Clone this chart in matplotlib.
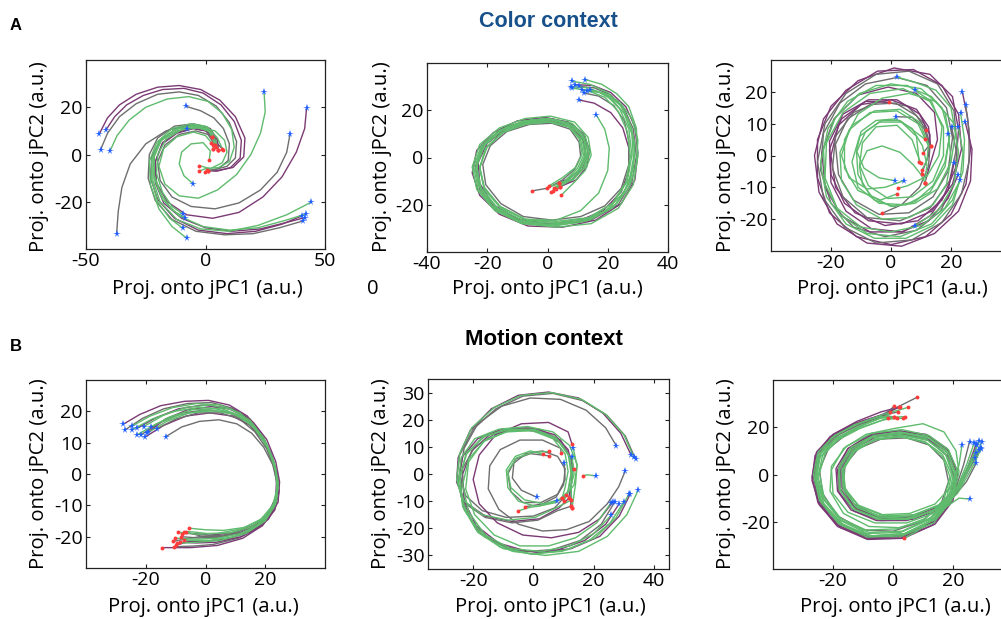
import matplotlib
matplotlib.use("Agg")
import matplotlib.pyplot as plt

plt.rcParams['font.family'] = ['Open Sans', 'DejaVu Sans']
plt.rcParams['axes.unicode_minus'] = False

W, H = 1001, 619
G, P, K = '#5fbb6d', '#7b3a74', '#6e6e6e'
STAR, DOT = '#1f5fff', '#ff3b3b'

# ---------------- data: panel A1 (Color context, left) ----------------
A1_TRAJ = [
    [(-44.4,8.8),(-41,15.5),(-36,21),(-29,25.5),(-20,28.5),(-11,29.2),(-2,27.5),(6,23),(12.5,16),(16.5,7),(16,-1),(11.5,-5.5),(4,-7),(0.5,-6.5)],
    [(-41.6,10.5),(-38,16),(-33,21),(-26,25),(-18,27.5),(-9,28),(-1,26),(6.5,21),(12,14),(15,6),(14.5,-1.5),(10.5,-5.5),(5,-7),(1.2,-6.8)],
    [(-43.9,2),(-41,9),(-36,16),(-29,21.5),(-20,25.5),(-11,26.5),(-3,25),(4.5,20.5),(10,13.5),(13,5.5),(12.5,-1.5),(9,-5),(3.5,-6.5),(-0.2,-7.5)],
    [(-40,1.4),(-37,8),(-32,14.5),(-25,20),(-16,23.5),(-7,24.5),(1,22.5),(7,17.5),(11,10.5),(12,3),(10,-3),(5.5,-5.5),(0,-6),(-2.8,-7.1)],
    [(44,-20.3),(34,-25.5),(22,-30),(10,-32.5),(-2,-31.5),(-12,-27.5),(-19,-20),(-22,-11),(-22,-2),(-19,5.5),(-13,10.5),(-5,12.5),(1,11.5),(5,7),(7.4,1.7)],
    [(40.3,-26),(32,-29.5),(21,-32.5),(9,-33.5),(-3,-32),(-13,-27),(-20,-19),(-23,-10),(-22.5,-1),(-19,6),(-12,11),(-4,12.5),(2,11),(5,6),(5.4,2)],
    [(40.9,-28.1),(31,-31),(20,-33.5),(8,-34),(-4,-32.5),(-14,-27.5),(-21,-19.5),(-24,-10),(-23.5,0),(-20,7),(-13,12),(-5,13),(1,11.5),(3.5,7),(3.3,2.4)],
    [(41.6,-26.7),(33,-29),(23,-31.5),(11,-32.5),(0,-31),(-10,-27),(-17.5,-20.5),(-21,-12),(-21,-3),(-18,4.5),(-12,9),(-5,11),(0,10),(2.8,7.4)],
    [(42.1,-25.2),(33,-28),(22,-31),(10,-32),(-1,-30.5),(-11,-26),(-18,-19),(-21.5,-10),(-21.5,-1),(-18.5,6),(-12,10),(-4,11.5),(1.5,10),(4.5,5),(4.5,3)],
    [(42.3,19.7),(41.5,11),(38,1),(32,-9.5),(24,-18),(14,-24.5),(3,-27),(-8,-25.5),(-16,-20),(-20.5,-12),(-21,-3),(-18,5),(-12,9.5),(-5,11),(0.5,10),(3.5,6),(7,2.5)],
    [(35.4,8.8),(34,1),(30,-7.5),(23,-15),(14,-20.5),(4,-23),(-6,-22),(-14,-18),(-19,-11),(-20,-3),(-17,4),(-11,8.5),(-4,10),(1,8.5),(4,4)],
    [(24.5,26.5),(25,18),(23,9),(19,0),(13,-8.5),(5,-15),(-3,-18.5),(-11,-17.5),(-17,-12.5),(-19.5,-5),(-17.5,2.5),(-12,7.5),(-5,9.5),(0,8),(2.5,5)],
    [(-8.2,20.4),(-2,18.5),(3.5,15.5),(7.5,11),(10,4.5),(9.5,-2.5),(5.5,-6),(1.2,-6.8)],
    [(-7.9,10.8),(-2,11.5),(4,10),(8,6),(9,1),(7,-3.5),(2,-6),(-2.6,-4.7)],
    [(-9.5,-25.2),(-14,-22),(-18,-16),(-20.5,-8),(-20,0),(-16.5,6.5),(-10,10.5),(-3,11.5),(2,9.5),(4.5,5),(3.3,2.4)],
    [(-8.6,-26.7),(-14,-23.5),(-18.5,-17),(-21.5,-8.5),(-21.5,0),(-18,7),(-11.5,11),(-4,12),(1.5,10),(4.5,4.5),(5.4,2)],
    [(-9.5,-31.2),(-15,-27),(-20,-20),(-22.5,-11),(-22.5,-2),(-19.5,5.5),(-13,10.5),(-5,12),(1,10.5),(3.5,6),(3,4)],
    [(-7.9,-35.4),(-14,-30.5),(-19.5,-23),(-23,-13),(-23.5,-3),(-20.5,5),(-14,11),(-6,13),(0,12),(3,8),(2.8,7.4)],
    [(-5.1,-12.5),(-9,-9),(-11,-4),(-10,1),(-6,4.5),(-1,5),(2,1.5),(1.6,-2.3)],
    [(-37.2,-33.7),(-36.5,-24),(-35,-14),(-31.5,-4),(-25,4.5),(-16.5,10),(-8,12.3),(0,11),(4,7),(5.4,2)],
]
A1_COLORS = [P, P, K, G, G, P, K, P, G, P, K, G, K, G, G, G, G, G, G, K]

# ---------------- data: panel A2 (Color context, middle) ----------------
A2_TRAJ = [
    [(8.1,32.3),(14,31),(20,27.5),(25,21),(28,12),(29,1),(27.5,-10),(23,-19.5),(14.5,-26),(3.5,-28),(-7.5,-27),(-16.5,-21.5),(-22,-13),(-23.5,-4),(-21,5),(-15,11.5),(-7,15),(1,16),(8,13.5),(12,8),(13,1),(11,-5),(7,-9.5),(2.3,-12.7)],
    [(12.5,33),(18,31),(23,27),(27,21.5),(29.5,12.5),(30,0.5),(28.5,-11.5),(23.5,-21.5),(14.5,-28),(3,-29.5),(-8.5,-28),(-17.5,-22.5),(-23.5,-13.5),(-25,-4),(-22.5,5.5),(-16,12.5),(-7.5,16.5),(1,17.5),(9,15),(13.5,8.5),(14.5,1),(12.5,-5.5),(8.5,-11),(4.6,-15.9)],
    [(8.1,29.4),(13,28.5),(19,25.5),(23.5,19.5),(26.5,11),(27.5,0.5),(26,-10.5),(21.5,-19.5),(13.5,-25.5),(3,-27),(-7.5,-26),(-16,-20.5),(-21,-12.5),(-22.5,-4),(-20,4.5),(-14.5,11),(-7,14.5),(1,15),(7.5,13),(11,7.5),(12,1),(10,-4.5),(6.5,-9),(1.7,-14.1)],
    [(10.3,30.1),(15.5,29.5),(21,26.5),(25.5,20.5),(28.5,12),(29.5,0.5),(28,-10.5),(23.5,-20),(14.5,-26.5),(3,-28.5),(-8,-27.5),(-17,-22),(-22.5,-13.5),(-24,-4),(-21.5,5),(-15.5,12),(-7,15.5),(1,16.5),(8.5,14),(12.5,8.5),(13.5,1.5),(11.5,-5),(7.5,-10),(2.9,-13.4)],
    [(11.3,28.7),(16.5,28),(21.5,24.5),(25.5,18.5),(28,10),(28.5,-0.5),(27,-11),(22.5,-20),(14,-26.5),(3,-28.5),(-8,-27.5),(-16.5,-22),(-22,-14),(-24,-5),(-22,4),(-16,11),(-8,15),(0.5,16.5),(8,14.5),(12.5,9),(14,2),(12.5,-4),(8.5,-9),(4,-12.4)],
    [(10.3,24.4),(15.5,23),(21,19),(25,12.5),(27,4),(27,-5.5),(24.5,-14.5),(18.5,-22.5),(10,-27),(0,-28),(-10,-26),(-18,-20),(-22.5,-11),(-23,-2),(-20,6),(-14,12),(-6,15.5),(2,15.5),(8.5,12.5),(12,7),(12.5,0.5),(10.5,-5.5),(7,-9),(3.7,-10.6)],
    [(14.1,28.7),(19,27),(24,22.5),(27,15.5),(29,6),(28.5,-4.5),(25.5,-14.5),(19.5,-22.5),(10.5,-27.5),(-0.5,-28.5),(-10.5,-26.5),(-18.5,-20.5),(-23,-11.5),(-23.5,-2),(-20.5,6.5),(-13.5,13),(-5,16),(3,16),(9.5,12.5),(12.5,6.5),(12.5,0),(10,-6),(5.5,-10.5),(-0.1,-12.7)],
    [(16.2,18),(19,12),(20.5,4),(20,-5.5),(17,-15),(11,-22.5),(3,-26.5),(-7,-26.5),(-15.5,-21.5),(-21,-13.5),(-22.5,-4.5),(-20.5,4),(-15,10.5),(-7.5,14.5),(0.5,15.5),(7.5,13),(11.5,7.5),(12.5,1),(10.5,-5),(6.5,-9.5),(1.2,-14.8)],
    [(12,27.3),(17,26),(22,22),(25.5,15.5),(27,7),(27,-3),(24.5,-13),(19,-20.5),(11,-25),(1.5,-26.5),(-8,-25),(-15.5,-19.5),(-20.5,-11.5),(-21.5,-3),(-19,5),(-13.5,11),(-6,14),(1.5,14.5),(7.5,12),(10.5,6.5),(11,0.5),(9,-5),(5,-9.5),(0,-13),(-5,-14.1)],
    [(9.2,30.8),(15,30.5),(21,27.5),(26,21.5),(29,13),(30,2),(29,-9.5),(24.5,-19.5),(16,-26.5),(5,-29.5),(-6.5,-29),(-16,-24),(-22.5,-16),(-25,-6.5),(-23.5,3),(-18,10.5),(-10,15.5),(-1,17),(7,15),(12,10),(14,3),(13,-4),(9.5,-9.5),(4,-12.4)],
    [(13,28),(18.5,27.5),(24,23.5),(28,16.5),(30,7.5),(29.5,-3),(27,-13),(21.5,-21.5),(12.5,-27),(2,-29),(-9,-27.5),(-17.5,-22),(-23,-13.5),(-24.5,-4),(-22,5),(-16,11.5),(-8,15.5),(0,16.5),(7.5,14),(12,8.5),(13.5,2),(12,-4.5),(8.5,-9.5),(3.7,-10.6)],
    [(7.7,30),(13.5,29.5),(19.5,26.5),(24,20.5),(27,12),(28,1),(26.5,-10),(22,-19),(14,-25.5),(3.5,-27.5),(-7,-26.5),(-15.5,-21),(-21,-13),(-22.5,-4.5),(-20.5,4),(-15,10.5),(-7.5,14),(0.5,15),(7,13),(10.5,8),(11.5,1.5),(9.5,-4),(5,-8.5),(0.5,-12)],
]
A2_COLORS = [G, G, G, K, G, P, G, G, K, P, G, G]

# ---------------- data: panel A3 (Color context, right) ----------------
A3_TRAJ = [
    [(23.8,19.9),(25.5,12),(26.5,2),(25,-9),(20,-18.5),(11.5,-25.5),(0,-28),(-11.5,-25.5),(-20.5,-18),(-24.5,-7),(-24.5,5),(-20,15.5),(-11,23.5),(1,27.5),(13,25.5),(20.5,18.5),(22.5,8),(21.5,-4),(17,-14),(9,-20.5),(-2,-22),(-12,-18),(-18.5,-10),(-20,0),(-17.5,9.5),(-10,16),(0,17.5),(8.5,14.5),(12.5,9),(13.2,2.9)],
    [(24.9,15.9),(26,8),(26,-2),(23.5,-12),(17,-21),(7,-26.5),(-5,-27.5),(-15.5,-22.5),(-22.5,-13.5),(-24.5,-2),(-22,10),(-15,19.5),(-5,25.5),(6,26.5),(15.5,22.5),(21,14),(22,3),(19.5,-8),(13,-16.5),(3,-20.5),(-8,-19.5),(-16,-13),(-19.5,-4),(-18.5,6),(-12.5,13.5),(-3.5,17),(5.5,15.5),(11,10),(13,3.5),(10.8,0.9)],
    [(23.2,13.3),(24.5,5),(24,-5),(20.5,-14),(13.5,-21.5),(3,-25.5),(-8,-24.5),(-17,-18.5),(-22,-9),(-22.5,2),(-18.5,12),(-10.5,19.5),(0,22.5),(10,21),(17,15),(19.5,6),(18,-3.5),(13,-11.5),(5,-15.5),(-4,-15),(-11,-10),(-13,-2),(-10.5,6),(-4,10.5),(3.5,10.5),(8.5,6),(9.4,-2.1)],
    [(24.7,10.6),(27,2),(26.5,-8),(22.5,-17.5),(14.5,-24.5),(3.5,-28.5),(-8,-27.5),(-18,-21.5),(-24,-11.5),(-25.5,0),(-22.5,11.5),(-15,20.5),(-4.5,26.5),(7.5,27),(17,22),(22.5,13),(23.5,2),(20.5,-9),(13.5,-17.5),(3.5,-21.5),(-7.5,-20.5),(-15.5,-15),(-20,-6),(-20.5,4.5),(-16,13),(-7.5,17.5),(2,17.5),(9.5,13),(13,6.5),(12.5,0),(10.2,-5.7)],
    [(20.2,9.1),(22,0),(21,-9),(16.5,-17.5),(8.5,-23.5),(-2,-25.5),(-12.5,-22.5),(-20,-15),(-23.5,-4.5),(-22.5,7),(-17,16.5),(-8.5,22.5),(2,24.5),(12,22),(18.5,15),(20.5,5.5),(19,-5),(14,-13),(6,-18),(-4,-18.5),(-12.5,-14),(-17.5,-6),(-18.5,3.5),(-14.5,11.5),(-7,16),(1.5,16.5),(8.5,12.5),(11.7,8)],
    [(22.4,9.1),(24,1),(23,-8),(18,-16.5),(10,-22),(0,-24),(-10,-22.5),(-18,-16.5),(-22,-7),(-21.5,4),(-16,13.5),(-7,19.5),(4,21),(13,17),(17.5,9),(17.5,0),(14,-8),(7,-13),(-1,-13.5),(-7.5,-9.5),(-10.5,-3),(-9.5,4),(-5,9),(2,9.5),(7,5),(9.9,-2.5)],
    [(19.1,6.7),(20,-1),(18.5,-9),(14,-15.5),(6,-19.5),(-3,-20),(-11.5,-15.5),(-16.5,-8),(-17,1),(-13,9.5),(-5.5,14),(3,14.5),(9.5,10.5),(12.5,3.5),(12,-1.5),(10.4,-4.4)],
    [(21,-2.5),(19,-11),(13,-19),(4,-24),(-7,-24),(-16.5,-19),(-22,-10),(-23,1),(-19,11.5),(-11,19),(-1,21.5),(8.5,19.5),(14.5,13.5),(15.5,5),(13,-3),(11.3,-8.5)],
    [(23,-7.6),(20.5,-15.5),(14,-22),(5,-26),(-5.5,-26),(-15,-21.5),(-21.5,-13),(-23.5,-2.5),(-21,8.5),(-14.5,17),(-5,22),(5.5,22),(13.5,17),(17,9),(16,0),(12,-6.5),(5.5,-9.5),(2.4,-10.3)],
    [(1.9,24.7),(8,23),(15,20.5),(20,15),(21.5,7),(20,-2),(15.5,-10.5),(8,-15),(0,-16),(-7,-12.5),(-11,-6),(-11.5,1),(-8.5,7.5),(-3,11),(3,11),(8,7.5),(11.3,5.1)],
    [(8,20.6),(13.5,18.5),(18,13.5),(19.5,6),(18,-2),(14,-9.5),(8,-14.5),(1,-16),(-5.5,-14),(-9.5,-9),(-10.5,-3.5),(-8,1.5),(-3,3),(3,1),(7.5,-3),(10,-6),(11.3,-8.5)],
    [(1.7,12.2),(7,12),(11,8.5),(13,3),(12.5,-3.5),(9.5,-10),(3.5,-15.5),(-3.1,-18.2)],
    [(1.3,-7.9),(-4,-7),(-9,-4),(-11.5,1.5),(-10,7.5),(-5,11),(1.5,11.5),(7,8.5),(10.5,3),(12,-3),(11.3,-8.5)],
    [(4.3,-7.9),(-2,-10),(-8,-10.5),(-14,-7),(-16.5,0),(-14,8),(-7,13.5),(2,14),(9,10),(12.5,3),(13.2,2.9)],
    [(8,-22.1),(16,-17),(21,-9),(22.5,1),(21,10),(15,17),(6,19.5),(-3,18),(-11,13),(-15.5,5),(-15.5,-4),(-11,-11),(-3.5,-14),(1.9,-12.1)],
    [(22.4,-6),(19,-13.5),(12.5,-20.5),(3.5,-24),(-6.5,-23),(-15,-17.5),(-20,-8.5),(-20.5,2),(-16.5,11.5),(-8.5,17),(-0.6,16.7)],
]
A3_COLORS = [P, K, G, P, K, G, G, P, G, G, G, K, G, G, G, P]

# ---------------- data: panel B1 (Motion context, left) ----------------
B1_TRAJ = [
    [(-27.5,15.9),(-22,19),(-15,21.8),(-7,23.2),(1,23.5),(8,22),(14,18.5),(18.5,13),(22,6.5),(24,0),(24.5,-5.5),(23,-11),(19,-16.5),(12.5,-20.5),(4,-22.8),(-5,-23.5),(-14.5,-23.5)],
    [(-26.9,14.1),(-21,17.8),(-14,20.8),(-6,22.5),(2,22.8),(9,21),(15,17.5),(19.5,11.5),(22.5,5),(24.2,-1),(24.5,-6.5),(22.5,-12),(18,-17),(11,-20.5),(2.5,-22.5),(-4,-23),(-10.5,-23.2)],
    [(-24.6,15.3),(-18.5,18.5),(-11,21.2),(-3,22.5),(5,22),(11.5,19.5),(16.5,15),(20.5,9),(23.2,2.5),(24.3,-3.5),(23.5,-9.5),(20,-15),(13.5,-19),(5,-21.2),(-3,-21.8),(-9.4,-22.1)],
    [(-24.6,14.1),(-18,17.5),(-10.5,20),(-2.5,21.2),(5.5,20.8),(12,18.5),(17,14),(21,8),(23.5,1.5),(24.3,-4.5),(23,-10.5),(19,-15.5),(12,-19),(4,-20.5),(-3,-20.8),(-10.3,-20.5)],
    [(-22.9,14.6),(-16.5,18),(-9,20.8),(-1,22),(7,21.2),(13,18.5),(18,13.5),(21.5,7),(23.8,0.5),(24.6,-5.5),(23.2,-11.5),(19,-16.5),(12,-20),(3.5,-21.8),(-3,-22),(-8.5,-21.8)],
    [(-22.9,12.5),(-16.5,16),(-9,18.8),(-1,20.2),(7,20),(13,17.5),(18,13),(21.5,7),(23.5,1),(24,-4.5),(22.5,-10),(18.5,-14.5),(12,-17.5),(4,-19),(-2.5,-19.2),(-9.2,-18.6)],
    [(-21.6,12.5),(-15,16.5),(-7.5,19.5),(0.5,20.5),(8,19.5),(14,16.5),(18.5,12),(22,6),(23.8,0),(24.2,-5),(22.8,-10.5),(18.5,-15),(12,-18.5),(4,-20.2),(-2.5,-20.4),(-8.2,-20)],
    [(-20.7,15.1),(-14,18.8),(-6.5,21.3),(1.5,22),(9,20.5),(15,17),(19.5,11.5),(22.5,5),(24,-1.5),(24,-7),(21.5,-12.5),(16.5,-17),(9.5,-20),(1.5,-21.2),(-4,-21.2),(-7.1,-21.1)],
    [(-20.4,11.7),(-14,15.5),(-6.5,18.5),(1.5,19.5),(9,18.5),(15,15.5),(19.5,10.5),(22.5,4.5),(23.8,-1.5),(23.5,-7.5),(21,-12.5),(16,-16.5),(9,-18.8),(1.5,-19.5),(-3.5,-19),(-7.7,-19)],
    [(-19.6,13),(-13,16.8),(-5.5,19.5),(2.5,20.2),(10,19),(15.5,15.5),(20,10),(23,3.5),(24.3,-2.5),(23.8,-8.5),(20.5,-13.5),(15,-17),(8,-18.8),(0.5,-19),(-4,-18.5),(-6.5,-18.4)],
    [(-18.4,14.9),(-12,18.2),(-4.5,20.5),(3.5,20.8),(10.5,19),(16,15),(20.5,9.5),(23.2,3),(24.2,-3),(23.2,-9),(19.5,-14),(13.5,-17),(6,-18),(0,-17.8),(-5.4,-17.3)],
    [(-16.2,14.5),(-10,17.5),(-2.5,19.5),(5,19.5),(11.5,17.5),(16.5,13.5),(20.5,8),(23,2),(24,-4),(23,-10),(19.5,-15),(13.5,-18.5),(5.5,-20),(-1.5,-19.8),(-7.1,-18.4)],
    [(-13.3,11.9),(-8,15),(-2,16.8),(4.5,17.3),(10.5,16),(15.5,13),(19.5,8.5),(22.5,3),(24,-3),(23.5,-9),(20.5,-14),(14.5,-17.5),(6,-19.5),(-2,-20),(-11,-21.5)],
    [(-19.3,13.3),(-13.5,17.5),(-6,20.5),(2,21.5),(10,20.5),(16,16.5),(20.5,11),(23.5,4),(24.8,-2.5),(24.3,-9),(21,-14.5),(15,-18.5),(7,-20.8),(-1,-21.5),(-5.5,-21.5),(-9.9,-22.7)],
]
B1_COLORS = [P, K, G, G, P, G, K, G, P, G, G, K, K, P]

# ---------------- data: panel B2 (Motion context, middle) ----------------
B2_TRAJ = [
    [(27.5,10.4),(24,17),(17.5,23.5),(9,27.5),(-1,28),(-10.5,25),(-18.5,18.5),(-23,9.5),(-24.5,0),(-22.5,-8),(-17,-13.5),(-9,-16),(0,-15.5),(7,-12.5),(10.9,-7.8)],
    [(32.4,7),(29,15),(23,22.5),(15,28),(5,30.2),(-5,29),(-14,24),(-21,16),(-25,6),(-25.5,-3),(-22.5,-10.5),(-16,-15.5),(-7,-17.5),(2,-16.5),(8.5,-12.5),(11.7,-9)],
    [(33.3,6.2),(30,14.5),(24,22),(16,27.5),(6,30),(-4,29),(-13,24.5),(-20.5,17),(-24.5,7.5),(-25.5,-2),(-23,-10),(-17,-15),(-8.5,-17),(0.5,-16),(7.5,-12.5),(12.6,-9.6)],
    [(33.9,5.4),(30.5,14),(24.5,21.5),(16.5,27),(6.5,29.7),(-3.5,28.7),(-12.5,24),(-20,16.5),(-24.5,7),(-25.5,-2.5),(-22.5,-11),(-16,-16),(-7,-18),(1.5,-17),(8,-13.5),(12.4,-11.9)],
    [(34.8,-5.9),(31,-15),(24.5,-23),(15,-28.5),(4,-30),(-7,-28.5),(-16.5,-23),(-22.5,-14),(-25,-4),(-24,6),(-19.5,13),(-11.5,16.5),(-2,17.5),(6.5,15.5),(12,10.5),(14.5,3.5),(14,-3.5),(12.8,-12.7)],
    [(32.2,-7.2),(28.5,-15.5),(22,-23),(12.5,-27.5),(2,-29),(-8.5,-27.5),(-17.5,-22),(-23,-13),(-25,-3),(-23.5,6.5),(-18.5,13),(-10.5,16.5),(-1,17),(7,14.5),(11.5,9),(13,2),(12.5,-5),(12.4,-11.9)],
    [(31.7,-7.4),(27.5,-16),(20.5,-23.5),(11,-28),(0,-29.5),(-10,-27.5),(-18.5,-21.5),(-23.5,-12),(-24.5,-2),(-22.5,7),(-17,13.5),(-9,16.5),(0,16.5),(7.5,13.5),(11.5,7.5),(12.5,0.5),(11.5,-6),(10.2,-9.9)],
    [(30,-10.3),(25.5,-18),(18.5,-24.5),(9.5,-28.5),(-1,-29.5),(-11,-27),(-19,-20.5),(-23.5,-11),(-24.5,-1),(-22,8),(-16,14),(-8,16.5),(1,16),(8,12.5),(12,6.5),(12.5,-0.5),(11.5,-6.5),(9.5,-9)],
    [(28.5,-10.9),(24,-18.5),(17,-24.5),(8,-28),(-2,-28.5),(-11.5,-25.5),(-19,-19),(-23,-10),(-23.5,0),(-20.5,8.5),(-14.5,14.5),(-6.5,17),(2,16.5),(9,12.5),(12.5,6),(13,-1),(12,-7),(11.7,-9)],
    [(25.8,-10.6),(21,-18),(14,-23.5),(5,-26.5),(-4.5,-26.5),(-13,-22.5),(-19.5,-15),(-22.5,-5.5),(-21.5,4.5),(-16.5,12),(-9,15.5),(-0.5,16),(6.5,13),(10.5,7.5),(11.5,1),(10.5,-5),(9.5,-9)],
    [(27,-10.3),(22.5,-18.5),(15.5,-24.5),(6,-28),(-4,-28.5),(-13.5,-25),(-20.5,-17.5),(-24,-8),(-23.5,2),(-19.5,10),(-12.5,15),(-4,16.5),(4,15),(10,10.5),(13,4),(13.4,1.7)],
    [(25.8,-15.2),(20,-22),(12,-26.5),(2.5,-28.5),(-7.5,-27.5),(-16,-22.5),(-21.5,-14),(-23.5,-4),(-21.5,5.5),(-16,12.5),(-8,16),(1,16),(8,12.5),(12,6.5),(13,0),(12.5,-5),(12.8,-12.7)],
    [(30.5,1.2),(28.3,-4.7),(24.5,-11),(18.5,-17.5),(11,-20.5),(3,-21),(-5,-18.5),(-11.5,-13),(-15,-5.5),(-14.5,3),(-11,9),(-4.5,12.5),(3,12.5),(9,9.5),(9.2,7.9)],
    [(13.2,9.5),(14.5,3),(13.5,-4),(10,-9),(3.5,-11),(-3,-9.5),(-7.5,-5),(-8.5,1),(-5.5,6),(0,8),(5.3,8.3)],
    [(12.8,6.4),(13.5,0),(12,-6),(7.5,-10.5),(1,-12),(-5,-10),(-8.5,-5),(-9,1.5),(-6,6.5),(-1,8.5),(3.1,7.3)],
    [(10.2,4),(10.5,-2),(8,-7.5),(2.5,-10.5),(-3.5,-10.5),(-7.5,-6.5),(-8.5,0),(-6,5.5),(-1,7.5),(5,6.7)],
    [(1.2,-8.6),(-4,-6),(-7,-1.5),(-6.5,4),(-2.5,7.5),(3,8.5),(8,6.5),(10.5,2),(10,-4),(7.5,-8.5),(3,-11),(-2.9,-12.1)],
    [(7.9,-9.9),(3,-11.5),(-2,-12.5),(-5,-13.6)],
    [(20.7,-0.7),(18,-0.3),(16.5,-0.6)],
    [(26.5,-10.2),(22,-16.5),(15,-21.5),(6,-23.5),(-3.5,-22.5),(-12,-18),(-18,-11),(-20,-2),(-18,7),(-12.5,14.5),(-4,18.5),(5,19),(11.5,15.5),(12.8,11)],
]
B2_COLORS = [K, P, G, K, G, P, G, G, P, G, K, G, K, G, G, K, K, G, G, P]

# ---------------- data: panel B3 (Motion context, right) ----------------
B3_TRAJ = [
    [(23,12.5),(22,4),(19.5,-5),(14,-12.5),(5.5,-16.5),(-3.5,-17),(-11.5,-13),(-16,-6),(-16.5,2),(-13,9.5),(-6.5,14.5),(2,16),(10.5,14),(16.5,8.5),(19.5,0),(18,-9.5),(12.5,-18.5),(3,-24),(-8,-24.5),(-17,-19.5),(-23,-10.5),(-25,-1),(-23.5,8),(-18.5,14.5),(-11,19.5),(-3.5,23),(1.4,24.1)],
    [(25.5,13.8),(23.5,4),(21,-5.5),(15,-13.5),(6,-18),(-4,-18.5),(-12.5,-14.5),(-17.5,-7),(-18,2),(-14.5,10.5),(-7.5,16),(2,17.5),(11,15.5),(18,9.5),(21,0),(19.5,-10.5),(13.5,-20),(3.5,-26),(-8,-26.5),(-18,-21),(-24.5,-11.5),(-26.5,-1),(-25,9),(-19.5,16),(-11.5,21),(-3,25),(0.3,28.8)],
    [(27,13.2),(24.5,4),(21.5,-5),(15.5,-13),(6.5,-17.5),(-3.5,-18),(-12,-14),(-16.5,-6.5),(-17,2),(-13.5,10),(-7,15.5),(2,17),(11,15),(17.5,9),(20.5,0),(19,-10),(13,-19.5),(3,-25.5),(-8,-26),(-17.5,-20.5),(-24,-11),(-26,-1),(-24.5,8.5),(-19,15.5),(-11,20.5),(-4,24),(-1.6,24.1)],
    [(27.7,12.8),(25,3.5),(22,-6.5),(16,-14.5),(6.5,-19),(-4,-19.5),(-13,-15.5),(-18,-7.5),(-18.5,2),(-15,11),(-7.5,17),(2,18.5),(11.5,16.5),(18.5,10),(21.5,0),(20,-11),(14,-21),(3.5,-27),(-8.5,-27.5),(-18.5,-22),(-25,-12),(-27,-1),(-25.5,9.5),(-20,17),(-12,22.5),(-4,26.5),(2.3,28.6)],
    [(28.8,14.2),(25.5,5),(22,-4.5),(16,-12.5),(7,-17),(-3,-17.5),(-11.5,-13.5),(-16,-6),(-16.5,2.5),(-13,10),(-6,15),(3,16.5),(11.5,14.5),(17.5,8.5),(20,-0.5),(18.5,-10),(12.5,-19),(2.5,-24.5),(-8.5,-25),(-17.5,-19.5),(-23.5,-10),(-25.5,0),(-24,9),(-18.5,15.5),(-10.5,20),(-2.5,23.5),(3.4,23.8)],
    [(29.7,13.8),(26,5),(22.5,-5),(16.5,-13.5),(7,-18.5),(-3.5,-19),(-12.5,-15),(-17.5,-7),(-18,2),(-14,10.5),(-6.5,16),(3,17.5),(12,15.5),(18.5,9),(21,-0.5),(19.5,-11),(13.5,-20.5),(3,-26),(-8.5,-26.5),(-18,-21),(-24.5,-11),(-26.5,0),(-25,9.5),(-19.5,16.5),(-11.5,21.5),(-3,25.5),(5,28.4)],
    [(29.4,11.3),(25.5,2.5),(21.5,-7),(15,-14.5),(5.5,-18.5),(-4.5,-18.5),(-13,-14),(-17.5,-6),(-17.5,3),(-13.5,11),(-6,16),(3,17),(12,14.5),(18,8),(20.5,-1.5),(18.5,-12),(12,-21),(2,-26.5),(-9.5,-26.5),(-19,-20),(-24.5,-10),(-26,0.5),(-24,10),(-18,17),(-10,22),(-2,25.5),(1.7,26.5)],
    [(28.5,10.4),(25,2),(21,-7.5),(14.5,-15),(5,-19),(-5,-19),(-13.5,-14.5),(-18,-6),(-18,3.5),(-14,11.5),(-6.5,16.5),(2.5,18),(11.5,16),(18,10),(21,0.5),(19.5,-9.5),(13.5,-19),(4,-25),(-7,-26),(-16.5,-21.5),(-23,-12.5),(-25.5,-2.5),(-24.5,7),(-19.5,14.5),(-12,20),(-4,24),(3.9,24.5)],
    [(27.7,9.2),(24.5,1),(20.5,-8),(14,-15.5),(4.5,-19.5),(-5.5,-19.5),(-14,-15),(-18.5,-7),(-19,2.5),(-15,11),(-7.5,16.5),(1.5,18.5),(11,17),(18,11),(21.5,1.5),(20.5,-9),(15,-19),(5,-25.5),(-7,-27),(-17.5,-22.5),(-24.5,-13),(-27,-2.5),(-26,8),(-21,16),(-13,21.5),(-4,25),(0.3,24.4)],
    [(27.2,7.1),(24,-0.5),(20,-9),(13.5,-15.5),(4.5,-18.5),(-4.5,-18),(-12.5,-13.5),(-16.5,-5.5),(-16.5,3),(-12.5,10.5),(-5.5,15),(3,16),(11,13.5),(16.5,7.5),(19,-1),(17,-10.5),(11,-18.5),(1.5,-23),(-9,-23.5),(-17.5,-18.5),(-23,-9.5),(-24.5,0.5),(-22.5,9.5),(-17,16.5),(-9,21.5),(-1,25.5),(-1.1,26.3)],
    [(27.7,4.7),(24.5,-3),(19.5,-10.5),(12.5,-16),(3.5,-18.5),(-5.5,-17.5),(-13,-12.5),(-16.5,-4.5),(-16,4),(-11.5,11),(-4,15),(4.5,15.5),(12,12.5),(17,6),(18.5,-3),(16,-12.5),(9.5,-20),(0,-24),(-10,-23.5),(-18.5,-17.5),(-23.5,-8),(-24.5,2),(-21.5,11),(-14,18.5),(-5,24.5),(3,29.5),(7.9,32.6)],
    [(25.5,-10.4),(22,-10),(18,-13.5),(11.5,-19),(2,-22.5),(-8,-22),(-16.5,-16.5),(-21,-7),(-20.5,3.5),(-15.5,12),(-7,17.5),(3,19),(12,16.5),(18.5,10.5),(21.5,1.5),(20,-8.5),(14,-18),(8,-24),(3.6,-27)],
    [(29.3,10.6),(26,2),(21.5,-8),(14.5,-16),(4.5,-20.5),(-6,-20.5),(-15,-16),(-20,-8),(-20.5,2),(-16.5,11),(-9,17),(0.5,19.5),(10,21.5),(17,18),(21,10),(22,1),(20,-9.5),(14,-19),(4,-25),(-7.5,-26),(-17,-21.5),(-23.5,-12.5),(-26,-2.5),(-25,7.5),(-20.5,15.5),(-13,21),(-5,24.5),(0.3,24.4)],
    [(28.1,12.4),(25,3),(21,-6.5),(14.5,-14),(5,-18),(-5,-18),(-13,-13.5),(-17,-5.5),(-17,3),(-13,11),(-5.5,16),(3.5,17),(12,14.5),(18,8),(20.5,-2),(19,-12.5),(13,-21.5),(2.5,-27),(-9,-27),(-19,-21),(-25,-11),(-26.5,0),(-25,10),(-19,17.5),(-10.5,22.5),(-2,26),(2,28.5)],
]
B3_COLORS = [G, K, G, P, G, G, K, G, P, G, K, G, G, P]

# ---------------- axes limits / ticks ----------------
PANELS = [
    # traj, colors, box (left, top, right, bottom px), xlim, ylim, xticks, yticks
    (A1_TRAJ, A1_COLORS, (86, 60, 325, 249), (-50, 50), (-40, 40), [-50, 0, 50], [-20, 0, 20]),
    (A2_TRAJ, A2_COLORS, (427, 63, 668, 252), (-40, 40), (-40, 40), [-40, -20, 0, 20, 40], [-20, 0, 20]),
    (A3_TRAJ, A3_COLORS, (771, 60, 1011, 251), (-40, 40), (-30, 30), [-20, 0, 20], [-20, -10, 0, 10, 20]),
    (B1_TRAJ, B1_COLORS, (86, 380, 325, 568), (-40, 40), (-30, 30), [-20, 0, 20], [-20, -10, 0, 10, 20]),
    (B2_TRAJ, B2_COLORS, (428, 379, 669, 569), (-35, 45), (-35, 35), [-20, 0, 20, 40], [-30, -20, -10, 0, 10, 20, 30]),
    (B3_TRAJ, B3_COLORS, (773, 380, 1013, 569), (-40, 40), (-40, 40), [-20, 0, 20], [-20, 0, 20]),
]

fig = plt.figure(figsize=(W / 100, H / 100), dpi=100)

for traj, cols, (l, t, r, b), xl, yl, xt, yt in PANELS:
    ax = fig.add_axes([l / W, 1 - b / H, (r - l) / W, (b - t) / H])
    for tr, c in zip(traj, cols):
        xs = [p[0] for p in tr]
        ys = [p[1] for p in tr]
        ax.plot(xs, ys, color=c, lw=1.0, solid_joinstyle='round',
                zorder=3 if c == G else 2)
    for tr in traj:
        ax.plot(tr[0][0], tr[0][1], marker='*', color=STAR, ms=5.5, mew=0, zorder=4)
        ax.plot(tr[-1][0], tr[-1][1], marker='o', color=DOT, ms=2.8, mew=0, zorder=4)
    ax.set_xlim(*xl)
    ax.set_ylim(*yl)
    ax.set_xticks(xt)
    ax.set_yticks(yt)
    ax.tick_params(direction='in', length=3, width=0.8, top=True, right=True,
                   labelsize=14, pad=2.5, colors='#222222', labelcolor='black')
    for s in ax.spines.values():
        s.set_linewidth(0.9)
        s.set_color('#222222')

# axis labels
for cx, base in [(207, 294), (547, 294), (892, 294), (203, 612), (550, 612), (895, 612)]:
    fig.text(cx / W, 1 - base / H, 'Proj. onto jPC1 (a.u.)', ha='center', va='baseline', fontsize=14.6)
for bx, cy in [(44, 157), (387, 157), (731, 157), (44, 474), (386, 474), (731, 474)]:
    fig.text(bx / W, 1 - cy / H, 'Proj. onto jPC2 (a.u.)', ha='center', va='baseline',
             rotation=90, rotation_mode='anchor', fontsize=14.6)

# stray tick label
fig.text(373 / W, 1 - 294 / H, '0', ha='center', va='baseline', fontsize=14.6)

# titles & panel letters
fig.text(548.7 / W, 1 - 27.3 / H, 'Color context', ha='center', va='baseline',
         fontsize=15.5, fontweight='bold', color='#17508a', family='Liberation Sans')
fig.text(544 / W, 1 - 345 / H, 'Motion context', ha='center', va='baseline',
         fontsize=16, fontweight='bold', color='black', family='Liberation Sans')
fig.text(10 / W, 1 - 30 / H, 'A', ha='left', va='baseline', fontsize=12, fontweight='bold',
         family='Liberation Sans')
fig.text(10 / W, 1 - 350.7 / H, 'B', ha='left', va='baseline', fontsize=12, fontweight='bold',
         family='Liberation Sans')

fig.savefig('out.png', dpi=100)
